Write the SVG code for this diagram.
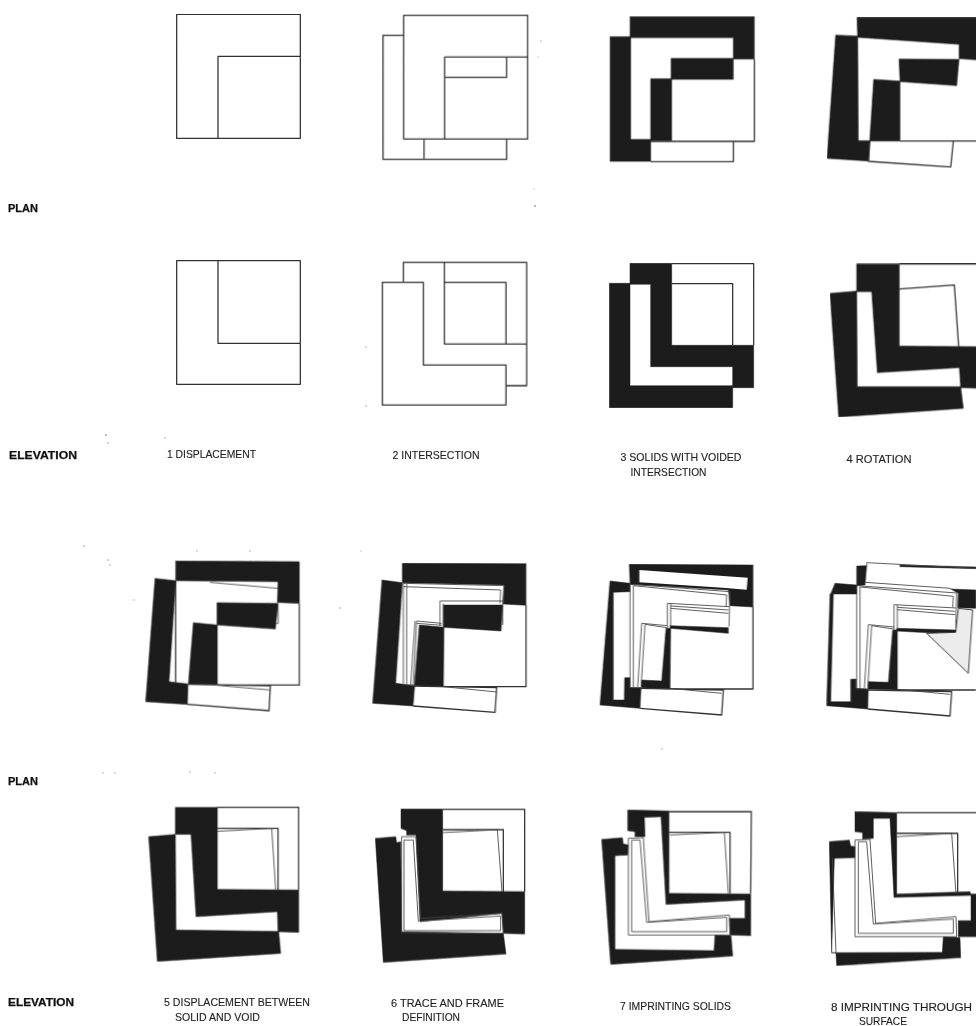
<svg xmlns="http://www.w3.org/2000/svg" xmlns:xlink="http://www.w3.org/1999/xlink" width="976" height="1026" viewBox="0 0 976 1026">
<style>
.k{fill:#1d1d1d;stroke:#1d1d1d;stroke-width:1.5;stroke-linejoin:round}
.l{fill:none;stroke:#333;stroke-width:3.8;stroke-linejoin:round}
.t{fill:none;stroke:#444;stroke-width:2.6;stroke-linejoin:round}
.g{fill:#ececec;stroke:#333;stroke-width:2.8}
.lab{font-family:"Liberation Sans",Arial,sans-serif;font-size:11.5px;fill:#222;stroke:#222;stroke-width:.12}
.hd{font-family:"Liberation Sans",Arial,sans-serif;font-size:11px;font-weight:bold;fill:#111;stroke:#111;stroke-width:.25}
.sp{fill:#999}
</style>
<defs>
<filter id="scan" x="0" y="0" width="100%" height="100%"><feGaussianBlur stdDeviation="0.4"/></filter>
<path id="planFrame" d="M120,118 L420,140 L417,245 M130,122 L410,150 L408,184 M120,118 V428 H153 M130,122 V428 M143,428 L155,235 M153,428 L165,238 M155,235 L232,242 M165,238 L230,248 M232,175 V255 M242,175 V245 M232,175 L418,185 M242,190 L415,205 M242,183 L415,195"/>
<path id="elevFrame" d="M115,145 L160,143 L177,395 L418,375 L420,435 L115,435Z M125,150 V425 H410 V382 L170,397 L150,150Z"/>
</defs>
<rect width="976" height="1026" fill="#fff"/>
<g filter="url(#scan)">
<g id="plan-1" transform="translate(120,0) scale(.33333)">
<path class="l" d="M170,43 H541 V415 H170Z M294,415 V169 H541"/>
</g>
<g id="plan-2" transform="translate(120,0) scale(.33333)">
<path class="l" d="M851,46 H1223 V417 H851Z M851,106 H789 V478 H1160 V417 M912,417 V478 M974,417 V171 H1223 M974,232 H1160 V171"/>
</g>
<g id="plan-3" transform="translate(580,0) scale(.33333)">
<polygon class="k" points="150,50 523,50 523,177 460,177 460,113 150,113"/>
<polygon class="k" points="273,175 460,175 460,238 273,238"/>
<polygon class="k" points="212,236 275,236 275,422 212,422"/>
<polygon class="k" points="90,110 152,110 152,418 212,418 212,484 90,484"/>
<path class="l" d="M523,177 V424 H275 M212,424 H460 V485 H212"/>
</g>
<g id="plan-4" transform="translate(580,0) scale(.33333)">
<polygon class="k" points="831,53 1200,53 1200,180 1137,176 1137,133 833,112"/>
<polygon class="k" points="767,105 833,108 835,422 870,422 865,483 741,475"/>
<polygon class="k" points="957,177 1137,178 1130,257 960,245"/>
<polygon class="k" points="881,238 960,243 960,423 869,423"/>
<path class="l" d="M960,423 H1200 M869,424 L866,484 L1112,501 L1120,424"/>
</g>
<g id="elev-1" transform="translate(120,240) scale(.33333)">
<path class="l" d="M170,62 H541 V433 H170Z M294,62 V310 H541"/>
</g>
<g id="elev-2" transform="translate(120,240) scale(.33333)">
<path class="l" d="M787,127 H910 V375 H1158 V495 H787Z M850,127 V67 H1220 V437 H1158 M973,67 V312 H1220 M973,127 H1158 V312"/>
</g>
<g id="elev-3" transform="translate(580,240) scale(.33333)">
<polygon class="k" points="150,70 275,70 275,316 521,316 521,443 458,443 458,380 212,380 212,133 150,133"/>
<polygon class="k" points="88,130 150,130 150,437 458,437 458,503 88,503"/>
<path class="l" d="M275,71 H521 V316 M275,131 H458 V316"/>
</g>
<g id="elev-4" transform="translate(580,240) scale(.33333)">
<polygon class="k" points="830,72 958,72 958,318 1200,320 1200,445 1142,443 1138,383 892,398 875,155 830,155"/>
<polygon class="k" points="750,160 830,153 832,440 1142,440 1150,505 776,531"/>
<path class="l" d="M958,72 H1200 M958,147 L1123,135 L1136,320"/>
</g>
<g id="plan-5" transform="translate(130,540) scale(.33333)">
<polygon class="k" points="137,63 508,65 508,190 442,187 444,125 137,122"/>
<polygon class="k" points="75,115 137,122 117,425 174,432 172,493 47,485"/>
<polygon class="k" points="261,188 444,190 436,267 261,255"/>
<polygon class="k" points="190,248 262,255 262,434 175,432"/>
<path class="l" d="M137,122 V430 M508,190 V435 H262 M175,433 L421,437 L417,512 L172,493"/>
<path class="t" d="M240,127 L444,145 M444,190 L445,250 L436,250 M262,436 L421,450"/>
</g>
<g id="plan-6" transform="translate(130,540) scale(.33333)">
<polygon class="k" points="817,70 1188,71 1188,196 1118,192 1122,135 817,128"/>
<polygon class="k" points="756,120 817,128 797,430 854,437 849,498 728,490"/>
<polygon class="k" points="940,195 1118,195 1113,273 940,262"/>
<polygon class="k" points="868,255 942,262 940,440 853,437"/>
<path class="l" d="M1188,196 V440 H940 M849,438 L1100,443 L1095,517 L849,498"/>
<path class="t" d="M940,440 L1100,456 M820,130 L1122,137 L1120,192 M820,140 L1112,150 L1110,190 M820,128 V435 H850 M830,132 V435 M850,435 L860,243 L935,250 M842,435 L855,243 M860,250 L935,256 M930,183 H1118 M930,183 V258 M940,190 V258 M1118,192 V255"/>
</g>
<g id="plan-7" transform="translate(590,545) scale(.33333)">
<polygon class="k" points="118,58 489,60 489,186 420,182 415,135 120,118"/>
<polygon points="148,75 473,98 470,134 398,128 148,112" fill="#fff"/>
<polygon class="k" points="60,108 120,115 120,140 70,142 70,465 103,465 104,398 120,398 120,428 153,428 150,490 30,480"/>
<polygon class="k" points="240,242 415,248 415,265 240,250"/>
<polygon class="k" points="228,250 242,250 240,432 155,428 155,405 215,408"/>
<path class="l" d="M489,186 V432 H240 M150,430 L400,435 L395,510 L150,490"/>
<path class="t" d="M240,430 L395,445"/>
<use href="#planFrame" class="t"/>
</g>
<g id="plan-8" transform="translate(590,545) scale(.33333)">
<polygon class="k" points="800,63 830,62 825,120 800,122"/>
<polygon class="k" points="930,60 1158,66 1158,71 930,65"/>
<polygon class="k" points="1082,132 1158,135 1158,190 1103,188 1105,145"/>
<polygon class="k" points="735,115 800,120 800,147 722,147"/>
<polygon class="k" points="730,147 722,470 782,470 782,403 798,402 798,430 835,433 833,492 710,482 720,147"/>
<polygon class="k" points="920,250 1097,255 1095,268 920,258"/>
<polygon class="k" points="908,255 922,255 922,435 835,432 835,410 895,412"/>
<polygon class="g" points="1010,265 1135,385 1148,195 1105,190 1097,262"/>
<path class="t" d="M830,62 L830,53 L1157,70 M825,112 L1082,130"/>
<path class="l" d="M1158,435 H922 M833,435 L1085,440 L1080,513 L833,492"/>
<path class="t" d="M922,433 L1080,448"/>
<use href="#planFrame" class="t" transform="translate(680,4)"/>
</g>
<g id="elev-5" transform="translate(130,790) scale(.33333)">
<polygon class="k" points="136,52 262,52 262,298 506,300 506,427 444,425 442,365 198,380 183,133 136,133"/>
<polygon class="k" points="56,140 136,133 138,420 446,424 452,490 82,514"/>
<path class="l" d="M262,52 H506 V300 M262,115 H444 V300"/>
<path class="t" d="M262,124 L425,115 L437,300"/>
</g>
<g id="elev-6" transform="translate(130,790) scale(.33333)">
<polygon class="k" points="813,57 938,57 938,303 1184,305 1184,432 1120,430 1116,370 870,395 858,135 830,135 830,122 813,115"/>
<polygon class="k" points="736,145 797,140 800,158 812,155 815,425 1120,430 1128,492 760,517"/>
<path class="l" d="M938,58 H1184 V305 M938,119 H1120 V305"/>
<path class="t" d="M938,128 L1102,119 L1116,305 M815,140 H858 L872,385 L1116,370 L1120,430 L815,428Z M822,150 H850 L865,393 L1112,378 V422 H822Z"/>
</g>
<g id="elev-7" transform="translate(590,790) scale(.33333)">
<polygon class="k" points="113,60 237,63 237,310 482,312 482,437 420,435 418,385 465,385 465,330 228,343 213,80 163,82 165,140 135,140 135,125 113,122"/>
<polygon class="k" points="35,148 97,143 100,162 115,165 113,195 75,197 75,478 372,482 375,435 423,437 428,498 62,523"/>
<path class="l" d="M237,65 H484 L482,310 M237,127 H420 V310"/>
<path class="t" d="M240,135 L403,127 L415,310"/>
<use href="#elevFrame" class="t"/>
</g>
<g id="elev-8" transform="translate(590,790) scale(.33333)">
<polygon class="k" points="795,65 920,68 920,312 1140,305 1143,316 912,322 900,85 850,85 850,145 818,147 818,128 795,125"/>
<polygon class="k" points="1143,312 1158,312 1158,440 1105,440 1105,392 1143,392"/>
<polygon class="k" points="718,155 778,150 782,168 795,170 795,203 733,205 725,488 738,488 1057,487 1060,440 1110,443 1112,503 740,527 738,490 725,488"/>
<path class="l" d="M920,68 H1158 M920,130 H1103 V310"/>
<path class="t" d="M920,140 L1085,130 L1098,310 M727,205 L738,488"/>
<use href="#elevFrame" class="t" transform="translate(680,5)"/>
</g>
<g id="specks">
<circle class="sp" cx="541" cy="41" r=".7"/><circle class="sp" cx="538" cy="57" r=".6"/><circle class="sp" cx="534" cy="189" r=".6"/><circle class="sp" cx="535" cy="206" r=".9"/>
<circle class="sp" cx="106" cy="435" r=".9"/><circle class="sp" cx="108" cy="443" r=".8"/><circle class="sp" cx="165" cy="438" r=".7"/><circle class="sp" cx="366" cy="347" r=".7"/><circle class="sp" cx="366" cy="406" r=".7"/>
<circle class="sp" cx="108" cy="560" r=".8"/><circle class="sp" cx="84" cy="546" r=".8"/><circle class="sp" cx="110" cy="565" r=".7"/><circle class="sp" cx="134" cy="600" r=".7"/>
<circle class="sp" cx="103" cy="773" r=".7"/><circle class="sp" cx="115" cy="773" r=".7"/><circle class="sp" cx="190" cy="772" r=".7"/><circle class="sp" cx="215" cy="773" r=".7"/><circle class="sp" cx="662" cy="749" r=".7"/>
<circle class="sp" cx="250" cy="551" r=".7"/><circle class="sp" cx="197" cy="551" r=".7"/><circle class="sp" cx="361" cy="551" r=".6"/><circle class="sp" cx="340" cy="608" r=".8"/>
</g>
</g>
<g id="labels">
<text class="hd" x="8" y="212" textLength="30" lengthAdjust="spacingAndGlyphs">PLAN</text>
<text class="hd" x="9" y="458.500" textLength="68" lengthAdjust="spacingAndGlyphs">ELEVATION</text>
<text class="hd" x="8" y="785" textLength="30" lengthAdjust="spacingAndGlyphs">PLAN</text>
<text class="hd" x="8" y="1006" textLength="66" lengthAdjust="spacingAndGlyphs">ELEVATION</text>
<text class="lab" x="167" y="458" textLength="89" lengthAdjust="spacingAndGlyphs">1 DISPLACEMENT</text>
<text class="lab" x="392.500" y="459" textLength="87" lengthAdjust="spacingAndGlyphs">2 INTERSECTION</text>
<text class="lab" x="620.500" y="461" textLength="121" lengthAdjust="spacingAndGlyphs">3 SOLIDS WITH VOIDED</text>
<text class="lab" x="630.500" y="475.500" textLength="76" lengthAdjust="spacingAndGlyphs">INTERSECTION</text>
<text class="lab" x="846.500" y="463" textLength="65" lengthAdjust="spacingAndGlyphs">4 ROTATION</text>
<text class="lab" x="164" y="1006" textLength="146" lengthAdjust="spacingAndGlyphs">5 DISPLACEMENT BETWEEN</text>
<text class="lab" x="175" y="1020.500" textLength="85" lengthAdjust="spacingAndGlyphs">SOLID AND VOID</text>
<text class="lab" x="391" y="1006.500" textLength="113" lengthAdjust="spacingAndGlyphs">6 TRACE AND FRAME</text>
<text class="lab" x="402" y="1020.500" textLength="58" lengthAdjust="spacingAndGlyphs">DEFINITION</text>
<text class="lab" x="620" y="1010" textLength="111" lengthAdjust="spacingAndGlyphs">7 IMPRINTING SOLIDS</text>
<text class="lab" x="831" y="1011" textLength="141" lengthAdjust="spacingAndGlyphs">8 IMPRINTING THROUGH</text>
<text class="lab" x="859" y="1024.500" textLength="48" lengthAdjust="spacingAndGlyphs">SURFACE</text>
</g>
</svg>
